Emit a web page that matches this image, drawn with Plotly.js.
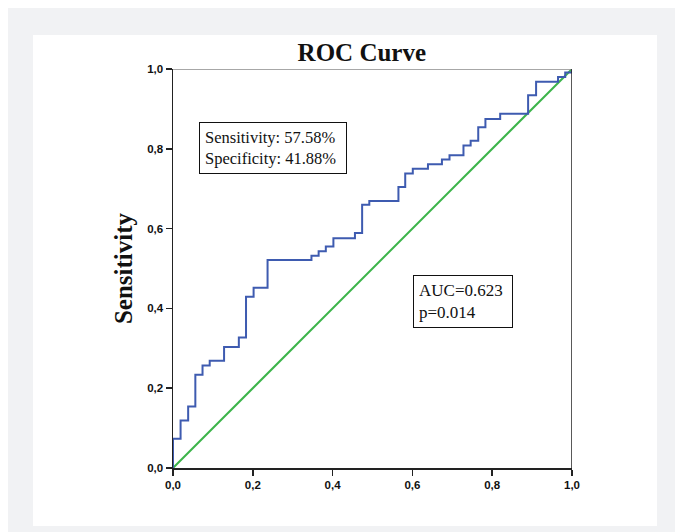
<!DOCTYPE html>
<html>
<head>
<meta charset="utf-8">
<script src="https://cdn.plot.ly/plotly-3.0.1.min.js"></script>
<style>
  html, body { margin:0; padding:0; background:#ffffff; }
  #outer { position:absolute; left:8px; top:8px; width:667px; height:524px; background:#f1f2f4; }
  #chart { position:absolute; left:33px; top:35px; width:624px; height:491px; background:#ffffff; }
</style>
</head>
<body>
<div id="outer"></div>
<div id="chart"></div>
<script>
// ROC step curve: 1 - specificity (x) and sensitivity (y) at each step
const fpr  = [0, 0, 0.019, 0.038, 0.056, 0.074, 0.092, 0.128, 0.165, 0.183, 0.202, 0.237,
              0.347, 0.365, 0.383, 0.402, 0.456, 0.474, 0.492, 0.565, 0.582, 0.601, 0.639,
              0.674, 0.693, 0.728, 0.746, 0.765, 0.783, 0.820, 0.890, 0.910, 0.965, 0.983, 1.0];
const sens = [0, 0.073, 0.119, 0.154, 0.234, 0.257, 0.269, 0.303, 0.327, 0.429, 0.452, 0.521,
              0.532, 0.543, 0.555, 0.576, 0.589, 0.660, 0.669, 0.704, 0.738, 0.750, 0.761,
              0.773, 0.784, 0.808, 0.820, 0.854, 0.875, 0.888, 0.934, 0.968, 0.980, 0.991, 1.0];
const refX = [0, 1];
const refY = [0, 1];
const tickVals = [0, 0.2, 0.4, 0.6, 0.8, 1.0];
const tickText = ["0,0", "0,2", "0,4", "0,6", "0,8", "1,0"];
const boxText1 = "Sensitivity: 57.58%<br>Specificity: 41.88%";
const boxText2 = "AUC=0.623<br>p=0.014";

const traces = [
  { x: refX, y: refY, mode: 'lines', line: { color: '#3cb44a', width: 2 }, hoverinfo: 'skip', showlegend: false },
  { x: fpr, y: sens, mode: 'lines', line: { color: '#3e5bb0', width: 2, shape: 'hv' }, showlegend: false }
];

const tickFont = { family: 'Liberation Sans, Arial, sans-serif', size: 11.5, color: '#111', weight: 'bold' };

const layout = {
  width: 624, height: 491,
  paper_bgcolor: '#ffffff', plot_bgcolor: '#ffffff',
  margin: { l: 140.3, r: 85.3, t: 34.3, b: 57.7 },
  showlegend: false,
  title: {
    text: '<b>ROC Curve</b>',
    font: { family: 'Liberation Serif, Times New Roman, serif', size: 25, color: '#111' },
    xref: 'container', x: 0.527, xanchor: 'center',
    yref: 'container', y: 0.965, yanchor: 'middle'
  },
  xaxis: {
    range: [0, 1], showgrid: false, zeroline: false,
    showline: true, linecolor: '#222', linewidth: 1.5,
    ticks: 'outside', ticklen: 6, tickcolor: '#222', tickwidth: 1.5,
    tickvals: tickVals, ticktext: tickText, tickfont: tickFont
  },
  yaxis: {
    range: [0, 1], showgrid: false, zeroline: false,
    showline: true, linecolor: '#222', linewidth: 1.5,
    ticks: 'outside', ticklen: 6, tickcolor: '#222', tickwidth: 1.5,
    tickvals: tickVals, ticktext: tickText, tickfont: tickFont,
    title: {
      text: '<b>Sensitivity</b>',
      font: { family: 'Liberation Serif, Times New Roman, serif', size: 25, color: '#111' },
      standoff: 7
    }
  },
  shapes: [
    { type: 'line', xref: 'x', yref: 'y', x0: 0, x1: 1, y0: 1, y1: 1, line: { color: '#8a8a8a', width: 1.5 } },
    { type: 'line', xref: 'x', yref: 'y', x0: 1, x1: 1, y0: 0, y1: 1, line: { color: '#222', width: 1.5 } }
  ],
  annotations: [
    { xref: 'x', yref: 'y', x: 0.065, y: 0.866, xanchor: 'left', yanchor: 'top',
      text: boxText1, showarrow: false, align: 'left', width: 136,
      font: { family: 'Liberation Serif, Times New Roman, serif', size: 16.5, color: '#111' },
      bordercolor: '#111', borderwidth: 1, borderpad: 5, bgcolor: '#ffffff' },
    { xref: 'x', yref: 'y', x: 0.602, y: 0.484, xanchor: 'left', yanchor: 'top',
      text: boxText2, showarrow: false, align: 'left', width: 88,
      font: { family: 'Liberation Serif, Times New Roman, serif', size: 17, color: '#111' },
      bordercolor: '#111', borderwidth: 1, borderpad: 5, bgcolor: '#ffffff' }
  ]
};

Plotly.newPlot('chart', traces, layout, { staticPlot: true, displayModeBar: false });
</script>
</body>
</html>
